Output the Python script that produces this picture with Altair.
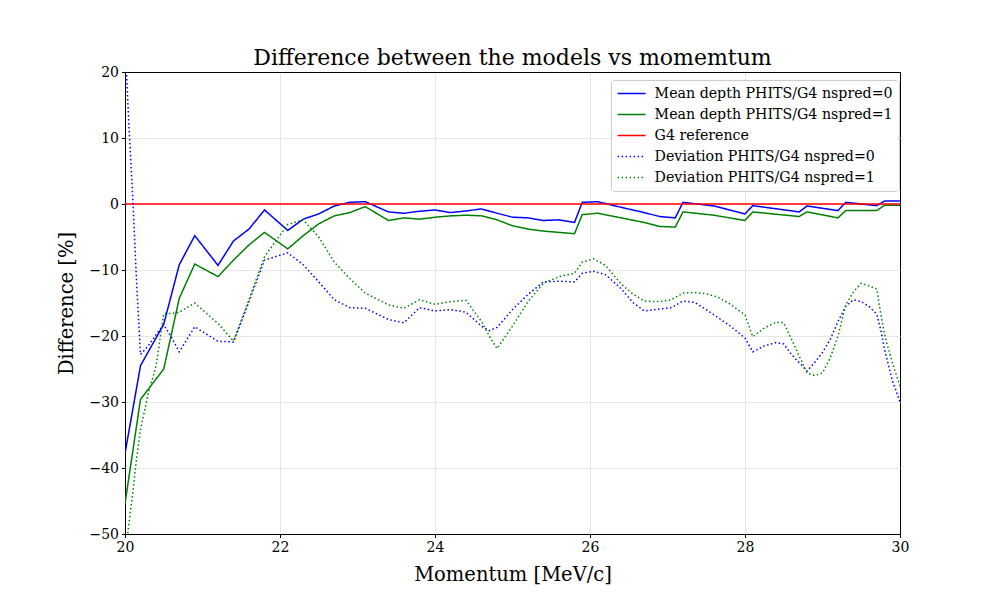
import altair as alt
import pandas as pd

# ---- data ----
x_mean = [20.0, 20.2, 20.5, 20.7, 20.9, 21.2, 21.4, 21.6, 21.8, 22.1, 22.3, 22.5, 22.7, 22.9, 23.1,
          23.4, 23.6, 23.8, 24.0, 24.2, 24.4, 24.6, 24.8, 25.0, 25.2, 25.4, 25.6, 25.8, 25.9, 26.1,
          26.4, 26.7, 26.9, 27.1, 27.2, 27.6, 28.0, 28.1, 28.7, 28.8, 29.2, 29.3, 29.7, 29.8, 30.0]
mean_nspred0 = [-37.8, -24.5, -18.2, -9.2, -4.8, -9.3, -5.6, -3.8, -0.9, -4.0, -2.3, -1.5, -0.3, 0.25, 0.35,
                -1.2, -1.4, -1.1, -0.9, -1.3, -1.05, -0.75, -1.4, -2.0, -2.1, -2.5, -2.4, -2.8, 0.25, 0.35,
                -0.5, -1.3, -1.9, -2.1, 0.25, -0.3, -1.5, -0.25, -1.2, -0.3, -1.0, 0.25, -0.25, 0.45, 0.45]
mean_nspred1 = [-45.4, -29.6, -25.0, -14.3, -9.1, -11.0, -8.5, -6.2, -4.3, -6.8, -4.8, -3.0, -1.8, -1.3, -0.4,
                -2.5, -2.1, -2.3, -2.0, -1.8, -1.7, -1.8, -2.4, -3.3, -3.8, -4.1, -4.3, -4.5, -1.6, -1.4,
                -2.1, -2.8, -3.4, -3.5, -1.2, -1.7, -2.5, -1.2, -1.9, -1.2, -2.1, -1.0, -1.0, -0.2, -0.2]

x_dev = [20.0, 20.05, 20.1, 20.15, 20.2, 20.3, 20.4, 20.45, 20.5, 20.6, 20.7, 20.9, 21.2, 21.4, 21.6,
         21.8, 22.1, 22.3, 22.5, 22.7, 22.9, 23.1, 23.4, 23.6, 23.8, 24.0, 24.2, 24.4, 24.6, 24.7,
         24.8, 25.0, 25.2, 25.4, 25.6, 25.8, 25.9, 26.05, 26.2, 26.4, 26.55, 26.7, 26.9, 27.05, 27.2,
         27.35, 27.5, 27.65, 27.8, 28.0, 28.1, 28.25, 28.4, 28.5, 28.6, 28.8, 28.9, 29.0, 29.1, 29.2,
         29.3, 29.4, 29.5, 29.6, 29.7, 29.75, 29.8, 29.9, 30.0]
dev_nspred0 = [25.0, 12.0, 1.0, -12.0, -22.8, -21.5, -19.8, -19.0, -18.3, -20.2, -22.4, -18.6, -20.8, -20.9, -14.8,
               -8.5, -7.4, -9.2, -11.8, -14.5, -15.7, -15.8, -17.5, -18.0, -15.7, -16.2, -16.0, -16.4, -18.5, -19.2,
               -18.7, -16.0, -13.7, -11.8, -11.7, -11.8, -10.5, -10.2, -10.7, -12.8, -14.9, -16.2, -15.9, -15.7, -14.7,
               -14.9, -16.0, -17.2, -18.4, -20.3, -22.4, -21.5, -21.0, -21.2, -22.8, -25.3, -24.0, -22.5, -20.5, -17.8,
               -15.5, -14.5, -14.8, -15.5, -16.7, -19.0, -22.0, -26.7, -30.0]
dev_nspred1 = [-53.5, -48.5, -43.8, -38.5, -34.2, -28.7, -24.6, -20.6, -16.6, -16.6, -16.4, -15.0, -18.1, -20.8, -14.5,
               -8.0, -3.1, -2.4, -5.0, -8.8, -11.3, -13.5, -15.3, -15.8, -14.5, -15.2, -14.8, -14.6, -17.8, -20.0,
               -21.9, -18.5, -14.8, -12.0, -11.0, -10.5, -8.8, -8.3, -9.3, -12.1, -13.6, -14.7, -14.8, -14.5, -13.5,
               -13.4, -13.6, -14.1, -15.1, -16.8, -20.1, -18.8, -17.9, -18.0, -20.5, -25.6, -26.0, -25.6, -23.3, -20.0,
               -15.3, -13.3, -12.0, -12.4, -12.9, -16.5, -19.8, -24.0, -27.6]

x_ref = [20.0, 30.0]
ref_values = [0.0, 0.0]

series_names = ["Mean depth PHITS/G4 nspred=0", "Mean depth PHITS/G4 nspred=1", "G4 reference",
                "Deviation PHITS/G4 nspred=0", "Deviation PHITS/G4 nspred=1"]
series_colors = ["#0000ff", "#008000", "#ff0000", "#0000ff", "#008000"]
series_dash = [[1, 0], [1, 0], [1, 0], [1.5, 2.5], [1.5, 2.5]]

x_ticks = [20, 22, 24, 26, 28, 30]
y_ticks = [-50, -40, -30, -20, -10, 0, 10, 20]

# ---- build long table ----
frames = []
for name, xs, ys in [(series_names[0], x_mean, mean_nspred0),
                     (series_names[1], x_mean, mean_nspred1),
                     (series_names[2], x_ref, ref_values),
                     (series_names[3], x_dev, dev_nspred0),
                     (series_names[4], x_dev, dev_nspred1)]:
    frames.append(pd.DataFrame({"x": xs, "y": ys, "series": name, "order": range(len(xs))}))
df = pd.concat(frames, ignore_index=True)

font = "DejaVu Serif"
grid_light = "#e6e6e6"

base = alt.Chart(df).encode(
    x=alt.X("x:Q", scale=alt.Scale(domain=[20, 30], nice=False, zero=False),
            axis=alt.Axis(values=x_ticks, format="d", title="Momentum [MeV/c]",
                          gridColor={"condition": {"test": "datum.value === 30", "value": "black"},
                                     "value": grid_light})),
    y=alt.Y("y:Q", scale=alt.Scale(domain=[-50, 20], nice=False, zero=False),
            axis=alt.Axis(values=y_ticks, format="d", title="Difference [%]",
                          gridColor={"condition": {"test": "datum.value === 20", "value": "black"},
                                     "value": grid_light})),
    color=alt.Color("series:N", title=None,
                    scale=alt.Scale(domain=series_names, range=series_colors),
                    legend=alt.Legend(orient="none", legendX=486, legendY=8)),
    strokeDash=alt.StrokeDash("series:N", title=None,
                              scale=alt.Scale(domain=series_names, range=series_dash)),
    order="order:Q",
)

layers = [base.mark_line(strokeWidth=1.5, clip=True).transform_filter(alt.datum.series == s)
          for s in series_names]

chart = alt.layer(*layers).properties(
    width=775, height=462,
    title=alt.TitleParams("Difference between the models vs momemtum", font=font, fontSize=22,
                          fontWeight="normal", color="black", offset=-5),
    autosize=alt.AutoSizeParams(type="none"),
    padding={"left": 117, "top": 64, "right": 92, "bottom": 56},
).configure_view(
    stroke="black", strokeWidth=1
).configure_axis(
    labelFont=font, labelFontSize=14, labelColor="black", labelFlush=False,
    titleFont=font, titleFontSize=19.5, titleFontWeight="normal", titleColor="black",
    domainColor="black", tickColor="black", tickSize=3.5, labelPadding=3,
    gridWidth=1,
).configure_axisX(titlePadding=11).configure_axisY(titlePadding=12).configure_legend(
    labelFont=font, labelFontSize=14.2, labelColor="black",
    symbolType="M-1,0H3", symbolStrokeWidth=1.5, symbolSize=196,
    strokeColor="#cccccc", fillColor="white", padding=5.6, cornerRadius=3,
    rowPadding=5, labelOffset=22, labelLimit=400,
)

chart.save("out.html", embed_options={"renderer": "svg", "actions": False})
